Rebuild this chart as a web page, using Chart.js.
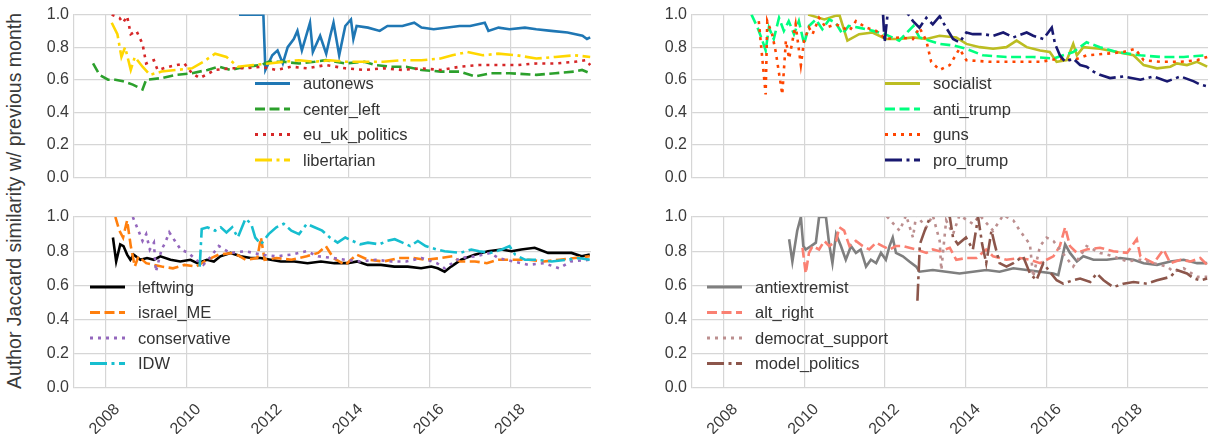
<!DOCTYPE html>
<html lang="en">
<head>
<meta charset="UTF-8" />
<title>Author Jaccard similarity w/ previous month</title>
<script src="https://cdn.jsdelivr.net/npm/chart.js"></script>
<style>
  body { margin:0; background:#fff; }
  #wrap { position:relative; width:1208px; height:434px; overflow:hidden; font-family:"Liberation Sans", Arial, sans-serif; }
  canvas { position:absolute; }
  #ylab { position:absolute; left:14px; top:201px; transform:translate(-50%,-50%) rotate(-90deg);
          white-space:nowrap; font-size:19.5px; color:#3a3a3a; }
</style>
</head>
<body>
<div id="wrap">
  <div id="ylab">Author Jaccard similarity w/ previous month</div>
  <canvas id="tl" width="570" height="192" style="left:30px;top:0"></canvas>
  <canvas id="tr" width="560" height="192" style="left:648px;top:0"></canvas>
  <canvas id="bl" width="570" height="234" style="left:30px;top:200px"></canvas>
  <canvas id="br" width="560" height="234" style="left:648px;top:200px"></canvas>
</div>

<script>
/* ---- axis ticks ---- */
const yearTicks = [2008, 2010, 2012, 2014, 2016, 2018];
const yTicks    = [0, 0.2, 0.4, 0.6, 0.8, 1.0];

/* ---- data: [year, similarity] ---- */
// top left
const autonews = [[2011.3,1.0],[2011.9,1.0],[2011.95,0.66],[2012.12,0.75],[2012.25,0.78],[2012.38,0.70],[2012.5,0.80],[2012.65,0.85],[2012.74,0.90],[2012.85,0.78],[2013.05,0.95],[2013.12,0.77],[2013.3,0.87],[2013.45,0.76],[2013.55,0.87],[2013.63,0.95],[2013.77,0.75],[2013.92,0.93],[2014.06,0.97],[2014.12,0.85],[2014.2,0.93],[2014.48,0.92],[2014.77,0.90],[2014.96,0.93],[2015.33,0.93],[2015.62,0.95],[2015.8,0.92],[2016.1,0.91],[2016.74,0.93],[2017.0,0.93],[2017.36,0.95],[2017.45,0.90],[2017.7,0.92],[2017.97,0.91],[2018.35,0.92],[2018.63,0.91],[2019.0,0.90],[2019.4,0.89],[2019.77,0.87],[2019.88,0.85],[2019.96,0.86]];
const centerLeft = [[2007.7,0.70],[2007.86,0.63],[2008.07,0.60],[2008.25,0.60],[2008.44,0.59],[2008.68,0.57],[2008.92,0.54],[2009.01,0.60],[2009.39,0.61],[2009.76,0.63],[2010.14,0.64],[2010.52,0.66],[2010.8,0.68],[2011.08,0.66],[2011.46,0.68],[2011.84,0.69],[2012.03,0.71],[2012.4,0.71],[2012.78,0.70],[2013.16,0.71],[2013.44,0.72],[2013.92,0.70],[2014.39,0.71],[2014.67,0.69],[2015.05,0.68],[2015.42,0.68],[2015.8,0.66],[2016.27,0.65],[2016.75,0.65],[2017.12,0.62],[2017.5,0.64],[2017.97,0.64],[2018.63,0.63],[2019.1,0.64],[2019.58,0.65],[2019.76,0.66],[2019.96,0.64]];
const euUkPolitics = [[2008.16,1.0],[2008.35,0.98],[2008.44,0.95],[2008.54,0.99],[2008.63,0.88],[2008.77,0.90],[2008.92,0.82],[2009.01,0.70],[2009.2,0.72],[2009.29,0.66],[2009.58,0.68],[2009.95,0.70],[2010.14,0.64],[2010.33,0.61],[2010.71,0.66],[2011.08,0.67],[2011.46,0.67],[2011.84,0.68],[2012.22,0.66],[2012.59,0.68],[2012.97,0.67],[2013.44,0.69],[2013.92,0.67],[2014.39,0.66],[2014.86,0.67],[2015.33,0.66],[2015.8,0.67],[2016.27,0.66],[2016.75,0.68],[2017.22,0.69],[2017.69,0.69],[2018.16,0.69],[2018.63,0.70],[2019.1,0.70],[2019.58,0.71],[2019.86,0.72],[2019.96,0.69]];
const libertarian = [[2008.16,0.95],[2008.3,0.88],[2008.4,0.74],[2008.49,0.80],[2008.63,0.66],[2008.73,0.74],[2008.92,0.68],[2009.1,0.63],[2009.39,0.65],[2009.76,0.66],[2010.14,0.67],[2010.42,0.71],[2010.71,0.76],[2010.99,0.74],[2011.27,0.68],[2011.65,0.69],[2012.03,0.70],[2012.4,0.71],[2012.78,0.72],[2013.16,0.71],[2013.54,0.72],[2013.92,0.71],[2014.39,0.71],[2014.86,0.71],[2015.33,0.72],[2015.8,0.72],[2016.27,0.73],[2016.56,0.75],[2016.93,0.77],[2017.31,0.75],[2017.69,0.76],[2018.16,0.75],[2018.63,0.73],[2019.1,0.74],[2019.58,0.75],[2019.96,0.74]];
// top right
const socialist = [[2010.1,1.0],[2010.5,0.97],[2010.87,1.0],[2011.07,0.84],[2011.36,0.88],[2011.69,0.89],[2012.02,0.85],[2012.36,0.85],[2012.69,0.86],[2013.02,0.85],[2013.35,0.87],[2013.76,0.86],[2014.01,0.82],[2014.34,0.80],[2014.67,0.79],[2015.0,0.80],[2015.25,0.84],[2015.5,0.80],[2015.83,0.78],[2016.07,0.77],[2016.24,0.71],[2016.49,0.72],[2016.65,0.82],[2016.74,0.75],[2016.9,0.80],[2017.31,0.79],[2017.73,0.77],[2018.14,0.75],[2018.39,0.69],[2018.72,0.67],[2019.05,0.68],[2019.21,0.70],[2019.46,0.69],[2019.71,0.71],[2019.96,0.68]];
const antiTrump = [[2008.7,1.0],[2008.85,0.92],[2008.97,0.84],[2009.05,0.78],[2009.13,0.92],[2009.25,0.85],[2009.38,0.98],[2009.5,0.90],[2009.62,0.96],[2009.75,0.88],[2009.87,0.96],[2010.0,0.82],[2010.12,0.93],[2010.29,0.97],[2010.45,0.91],[2010.62,0.97],[2010.78,0.95],[2010.95,0.88],[2011.1,0.93],[2011.35,0.92],[2011.7,0.90],[2012.0,0.88],[2012.35,0.84],[2012.7,0.93],[2012.85,0.86],[2013.1,0.84],[2013.35,0.82],[2013.7,0.81],[2014.0,0.79],[2014.42,0.75],[2015.0,0.74],[2015.66,0.74],[2016.16,0.73],[2016.65,0.77],[2016.98,0.83],[2017.31,0.80],[2017.73,0.77],[2018.31,0.75],[2018.8,0.74],[2019.38,0.74],[2019.96,0.75]];
const guns = [[2008.88,0.96],[2009.05,0.51],[2009.09,0.96],[2009.21,0.88],[2009.3,0.77],[2009.46,0.51],[2009.55,0.84],[2009.63,0.73],[2009.79,0.94],[2009.92,0.69],[2010.0,0.84],[2010.12,0.92],[2010.21,0.88],[2010.37,0.98],[2010.54,0.92],[2010.79,0.94],[2011.12,0.90],[2011.28,0.96],[2011.53,0.92],[2011.78,0.90],[2012.02,0.85],[2012.36,0.86],[2012.69,0.85],[2012.85,0.92],[2013.02,0.84],[2013.14,0.71],[2013.35,0.66],[2013.6,0.69],[2013.84,0.79],[2014.01,0.72],[2014.59,0.71],[2015.25,0.71],[2015.83,0.71],[2016.32,0.73],[2016.65,0.72],[2016.98,0.75],[2017.48,0.76],[2017.89,0.77],[2018.18,0.79],[2018.39,0.72],[2018.8,0.71],[2019.3,0.71],[2019.71,0.72],[2019.96,0.74]];
const proTrump = [[2011.95,1.0],[2011.99,0.83],[2012.07,1.02],[2012.52,1.02],[2012.69,0.96],[2012.85,0.92],[2013.02,0.98],[2013.18,0.94],[2013.35,0.99],[2013.51,0.92],[2013.68,0.85],[2013.84,0.83],[2014.01,0.89],[2014.17,0.88],[2014.42,0.88],[2014.67,0.87],[2014.92,0.89],[2015.17,0.86],[2015.5,0.89],[2015.66,0.87],[2015.91,0.85],[2016.12,0.92],[2016.2,0.82],[2016.32,0.75],[2016.45,0.71],[2016.65,0.73],[2016.82,0.69],[2016.98,0.68],[2017.15,0.65],[2017.31,0.63],[2017.56,0.61],[2017.89,0.62],[2018.31,0.60],[2018.64,0.62],[2018.97,0.59],[2019.3,0.62],[2019.63,0.59],[2019.79,0.57],[2019.96,0.56]];
// bottom left
const leftwing = [[2008.19,0.88],[2008.27,0.74],[2008.37,0.84],[2008.45,0.83],[2008.54,0.78],[2008.62,0.75],[2008.7,0.78],[2008.87,0.75],[2009.03,0.76],[2009.2,0.75],[2009.36,0.77],[2009.61,0.75],[2009.85,0.74],[2010.1,0.75],[2010.27,0.73],[2010.51,0.75],[2010.68,0.74],[2010.84,0.77],[2011.09,0.79],[2011.34,0.77],[2011.59,0.76],[2011.83,0.76],[2012.08,0.75],[2012.33,0.74],[2012.66,0.74],[2012.99,0.73],[2013.32,0.74],[2013.65,0.73],[2013.98,0.73],[2014.22,0.74],[2014.47,0.72],[2014.8,0.72],[2015.13,0.71],[2015.46,0.71],[2015.79,0.70],[2016.04,0.71],[2016.2,0.70],[2016.37,0.68],[2016.53,0.71],[2016.78,0.75],[2017.11,0.78],[2017.44,0.80],[2017.77,0.81],[2018.02,0.80],[2018.26,0.81],[2018.59,0.82],[2018.92,0.79],[2019.25,0.79],[2019.5,0.79],[2019.75,0.77],[2019.95,0.78]];
const israelME = [[2008.25,1.0],[2008.35,0.92],[2008.44,0.88],[2008.54,0.98],[2008.63,0.83],[2008.73,0.71],[2008.82,0.77],[2009.01,0.73],[2009.39,0.71],[2009.67,0.70],[2009.95,0.72],[2010.24,0.71],[2010.52,0.75],[2010.8,0.78],[2011.18,0.79],[2011.46,0.75],[2011.75,0.76],[2011.84,0.88],[2011.93,0.75],[2012.22,0.76],[2012.59,0.75],[2012.97,0.77],[2013.25,0.79],[2013.44,0.83],[2013.63,0.76],[2013.92,0.72],[2014.2,0.78],[2014.48,0.75],[2014.86,0.74],[2015.24,0.76],[2015.61,0.76],[2015.9,0.75],[2016.27,0.76],[2016.56,0.77],[2016.75,0.74],[2017.12,0.74],[2017.41,0.73],[2017.69,0.75],[2018.07,0.75],[2018.44,0.75],[2018.82,0.74],[2019.2,0.75],[2019.58,0.76],[2019.95,0.77]];
const conservative = [[2008.68,1.0],[2008.82,0.92],[2008.92,0.86],[2009.01,0.90],[2009.1,0.81],[2009.2,0.85],[2009.25,0.68],[2009.39,0.81],[2009.48,0.85],[2009.58,0.91],[2009.72,0.86],[2009.86,0.81],[2010.05,0.79],[2010.24,0.75],[2010.42,0.72],[2010.61,0.77],[2010.8,0.83],[2011.08,0.79],[2011.46,0.80],[2011.84,0.78],[2012.22,0.77],[2012.59,0.78],[2012.97,0.80],[2013.25,0.77],[2013.63,0.76],[2013.92,0.75],[2014.29,0.74],[2014.67,0.75],[2015.05,0.74],[2015.42,0.74],[2015.8,0.76],[2016.18,0.73],[2016.37,0.70],[2016.75,0.76],[2017.12,0.77],[2017.5,0.79],[2017.69,0.76],[2018.07,0.74],[2018.44,0.72],[2018.82,0.73],[2019.2,0.70],[2019.48,0.74],[2019.95,0.75]];
const idw = [[2010.33,0.71],[2010.38,0.93],[2010.52,0.94],[2010.71,0.92],[2010.85,0.94],[2010.99,0.91],[2011.13,0.94],[2011.27,0.88],[2011.46,0.99],[2011.6,0.96],[2011.7,0.88],[2011.84,0.84],[2012.03,0.90],[2012.22,0.94],[2012.4,0.96],[2012.59,0.92],[2012.78,0.90],[2012.97,0.96],[2013.16,0.94],[2013.35,0.92],[2013.54,0.88],[2013.73,0.85],[2013.92,0.88],[2014.1,0.86],[2014.29,0.84],[2014.48,0.85],[2014.76,0.84],[2014.95,0.86],[2015.14,0.87],[2015.33,0.85],[2015.52,0.83],[2015.71,0.86],[2015.9,0.83],[2016.18,0.81],[2016.37,0.80],[2016.75,0.79],[2017.03,0.81],[2017.22,0.80],[2017.5,0.79],[2017.78,0.81],[2017.97,0.83],[2018.11,0.78],[2018.35,0.75],[2018.63,0.75],[2019.01,0.74],[2019.39,0.75],[2019.67,0.76],[2019.95,0.75]];
// bottom right
const antiextremist = [[2009.63,0.87],[2009.71,0.74],[2009.83,0.92],[2009.92,1.0],[2009.98,0.83],[2010.04,0.81],[2010.17,0.83],[2010.29,0.85],[2010.37,1.0],[2010.54,1.0],[2010.62,0.84],[2010.7,0.73],[2010.79,0.90],[2010.91,0.83],[2011.03,0.75],[2011.16,0.83],[2011.28,0.79],[2011.4,0.81],[2011.53,0.71],[2011.65,0.75],[2011.78,0.73],[2011.9,0.79],[2012.02,0.75],[2012.11,0.83],[2012.19,0.88],[2012.27,0.79],[2012.44,0.77],[2012.6,0.74],[2012.77,0.71],[2012.85,0.68],[2013.18,0.69],[2013.51,0.68],[2013.84,0.67],[2014.17,0.68],[2014.5,0.69],[2014.83,0.68],[2015.17,0.70],[2015.5,0.69],[2015.83,0.68],[2016.16,0.67],[2016.28,0.66],[2016.45,0.84],[2016.57,0.79],[2016.74,0.74],[2016.9,0.77],[2017.15,0.75],[2017.48,0.75],[2017.81,0.76],[2018.14,0.75],[2018.39,0.73],[2018.72,0.72],[2019.05,0.74],[2019.38,0.75],[2019.71,0.73],[2019.96,0.73]];
const altRight = [[2009.96,0.82],[2010.04,0.67],[2010.12,0.79],[2010.21,0.83],[2010.37,0.81],[2010.5,0.86],[2010.62,0.83],[2010.79,0.86],[2010.87,0.94],[2010.99,0.92],[2011.12,0.83],[2011.28,0.86],[2011.45,0.83],[2011.61,0.81],[2011.78,0.85],[2011.94,0.83],[2012.11,0.81],[2012.27,0.83],[2012.44,0.83],[2012.6,0.82],[2012.77,0.81],[2013.02,0.79],[2013.18,0.81],[2013.35,0.80],[2013.6,0.82],[2013.76,0.75],[2014.01,0.76],[2014.26,0.76],[2014.5,0.81],[2014.67,0.77],[2015.0,0.75],[2015.33,0.76],[2015.58,0.75],[2015.83,0.73],[2016.16,0.77],[2016.32,0.83],[2016.45,0.94],[2016.57,0.83],[2016.74,0.79],[2016.98,0.81],[2017.31,0.82],[2017.64,0.80],[2017.98,0.79],[2018.22,0.87],[2018.31,0.77],[2018.64,0.73],[2018.88,0.81],[2019.05,0.73],[2019.3,0.75],[2019.55,0.74],[2019.79,0.76],[2019.96,0.72]];
const democratSupport = [[2011.86,1.01],[2012.02,1.01],[2012.36,0.92],[2012.52,1.01],[2012.69,0.88],[2012.77,1.01],[2013.02,0.94],[2013.18,1.01],[2013.35,0.86],[2013.39,0.69],[2013.51,0.98],[2013.68,0.90],[2013.84,1.01],[2014.17,0.96],[2014.34,1.01],[2014.67,0.92],[2014.92,1.01],[2015.17,0.98],[2015.33,0.92],[2015.58,0.84],[2015.66,0.65],[2015.83,0.83],[2015.99,0.88],[2016.16,0.86],[2016.32,0.81],[2016.65,0.71],[2016.98,0.83],[2017.31,0.79],[2017.64,0.77],[2017.98,0.74],[2018.31,0.75],[2018.64,0.73],[2018.97,0.71],[2019.13,0.68],[2019.38,0.70],[2019.71,0.65],[2019.96,0.65]];
const modelPolitics = [[2012.8,0.51],[2012.86,0.84],[2012.98,0.92],[2013.25,1.08],[2013.6,1.0],[2013.68,0.88],[2013.8,0.84],[2014.0,0.88],[2014.17,0.81],[2014.3,1.0],[2014.4,0.84],[2014.5,0.73],[2014.63,0.92],[2014.71,0.84],[2014.83,0.73],[2015.0,0.71],[2015.17,0.73],[2015.41,0.77],[2015.58,0.67],[2015.74,0.63],[2015.91,0.73],[2016.07,0.68],[2016.24,0.63],[2016.4,0.61],[2016.65,0.63],[2016.82,0.64],[2017.07,0.62],[2017.23,0.67],[2017.4,0.63],[2017.64,0.59],[2017.89,0.61],[2018.14,0.62],[2018.47,0.61],[2018.72,0.63],[2019.05,0.65],[2019.21,0.69],[2019.46,0.67],[2019.63,0.64],[2019.79,0.63],[2019.96,0.64]];

/* ---- styling ---- */
const FONT = '"Liberation Sans", Arial, sans-serif';
const GRID = '#d6d6d6';
const dashes = { solid: [], dashed: [10, 4.5], dotted: [3, 5], dashdot: [17, 4.5, 3, 4.5] };

// legend drawn inside the plot area like matplotlib's
const inlineLegend = {
  id: 'inlineLegend',
  afterDatasetsDraw(chart, args, opts) {
    const { ctx, chartArea } = chart;
    const x0 = chartArea.left + opts.dx, y0 = chartArea.top + opts.dy;
    chart.data.datasets.forEach((ds, i) => {
      const y = y0 + i * 25.5;
      ctx.save();
      ctx.strokeStyle = ds.borderColor;
      ctx.lineWidth = 3;
      ctx.setLineDash(ds.borderDash);
      ctx.beginPath(); ctx.moveTo(x0, y); ctx.lineTo(x0 + 35, y); ctx.stroke();
      ctx.setLineDash([]);
      ctx.fillStyle = '#333';
      ctx.font = '16.5px ' + FONT;
      ctx.textBaseline = 'middle';
      ctx.fillText(ds.label, x0 + 48, y + 1);
      ctx.restore();
    });
  }
};

function panel(id, series, legendPos, showX, pad) {
  new Chart(document.getElementById(id), {
    type: 'line',
    data: {
      datasets: series.map((s, i) => ({
        label: s.label,
        data: s.data.map(([x, y]) => ({ x, y })),
        borderColor: s.color,
        borderWidth: 2.6,
        borderDash: dashes[s.dash],
        pointRadius: 0,
        tension: 0,
        fill: false,
        order: -i
      }))
    },
    options: {
      responsive: false,
      animation: false,
      layout: { padding: pad },
      plugins: { legend: { display: false }, tooltip: { enabled: false }, inlineLegend: legendPos },
      scales: {
        x: {
          type: 'linear', min: 2007.23, max: 2019.98,
          afterBuildTicks: s => { s.ticks = yearTicks.map(v => ({ value: v })); },
          afterFit: s => { s.height = showX ? 46 : 0; },
          grid: { color: GRID, lineWidth: 1.2, drawTicks: false },
          border: { display: false },
          ticks: {
            display: showX, minRotation: 45, maxRotation: 45, autoSkip: false,
            padding: 12, labelOffset: 12, color: '#3a3a3a',
            font: { family: FONT, size: 16 },
            callback: v => String(v)
          }
        },
        y: {
          min: 0, max: 1,
          afterBuildTicks: s => { s.ticks = yTicks.map(v => ({ value: v })); },
          afterFit: s => { s.width = 44; },
          grid: { color: GRID, lineWidth: 1.2, drawTicks: false },
          border: { display: true, color: GRID, width: 1.2 },
          ticks: { padding: 5, color: '#3a3a3a', font: { family: FONT, size: 16 }, callback: v => v.toFixed(1) }
        }
      }
    },
    plugins: [inlineLegend]
  });
}

panel('tl', [
  { label: 'autonews',       data: autonews,     color: '#1f77b4', dash: 'solid' },
  { label: 'center_left',    data: centerLeft,   color: '#2ca02c', dash: 'dashed' },
  { label: 'eu_uk_politics', data: euUkPolitics, color: '#d62728', dash: 'dotted' },
  { label: 'libertarian',    data: libertarian,  color: '#ffd700', dash: 'dashdot' }
], { dx: 181, dy: 69 }, false, { top: 13, right: 9, bottom: 10, left: 0 });

panel('tr', [
  { label: 'socialist',  data: socialist, color: '#bcbd22', dash: 'solid' },
  { label: 'anti_trump', data: antiTrump, color: '#00ff7f', dash: 'dashed' },
  { label: 'guns',       data: guns,      color: '#ff4500', dash: 'dotted' },
  { label: 'pro_trump',  data: proTrump,  color: '#191970', dash: 'dashdot' }
], { dx: 193, dy: 69 }, false, { top: 13, right: 0, bottom: 10, left: 0 });

panel('bl', [
  { label: 'leftwing',     data: leftwing,     color: '#000000', dash: 'solid' },
  { label: 'israel_ME',    data: israelME,     color: '#ff7f0e', dash: 'dashed' },
  { label: 'conservative', data: conservative, color: '#9467bd', dash: 'dotted' },
  { label: 'IDW',          data: idw,          color: '#17becf', dash: 'dashdot' }
], { dx: 16, dy: 70 }, true, { top: 17, right: 9, bottom: 0, left: 0 });

panel('br', [
  { label: 'antiextremist',    data: antiextremist,   color: '#7f7f7f', dash: 'solid' },
  { label: 'alt_right',        data: altRight,        color: '#fa8072', dash: 'dashed' },
  { label: 'democrat_support', data: democratSupport, color: '#bc8f8f', dash: 'dotted' },
  { label: 'model_politics',   data: modelPolitics,   color: '#8c564b', dash: 'dashdot' }
], { dx: 15, dy: 70 }, true, { top: 17, right: 0, bottom: 0, left: 0 });
</script>
</body>
</html>
